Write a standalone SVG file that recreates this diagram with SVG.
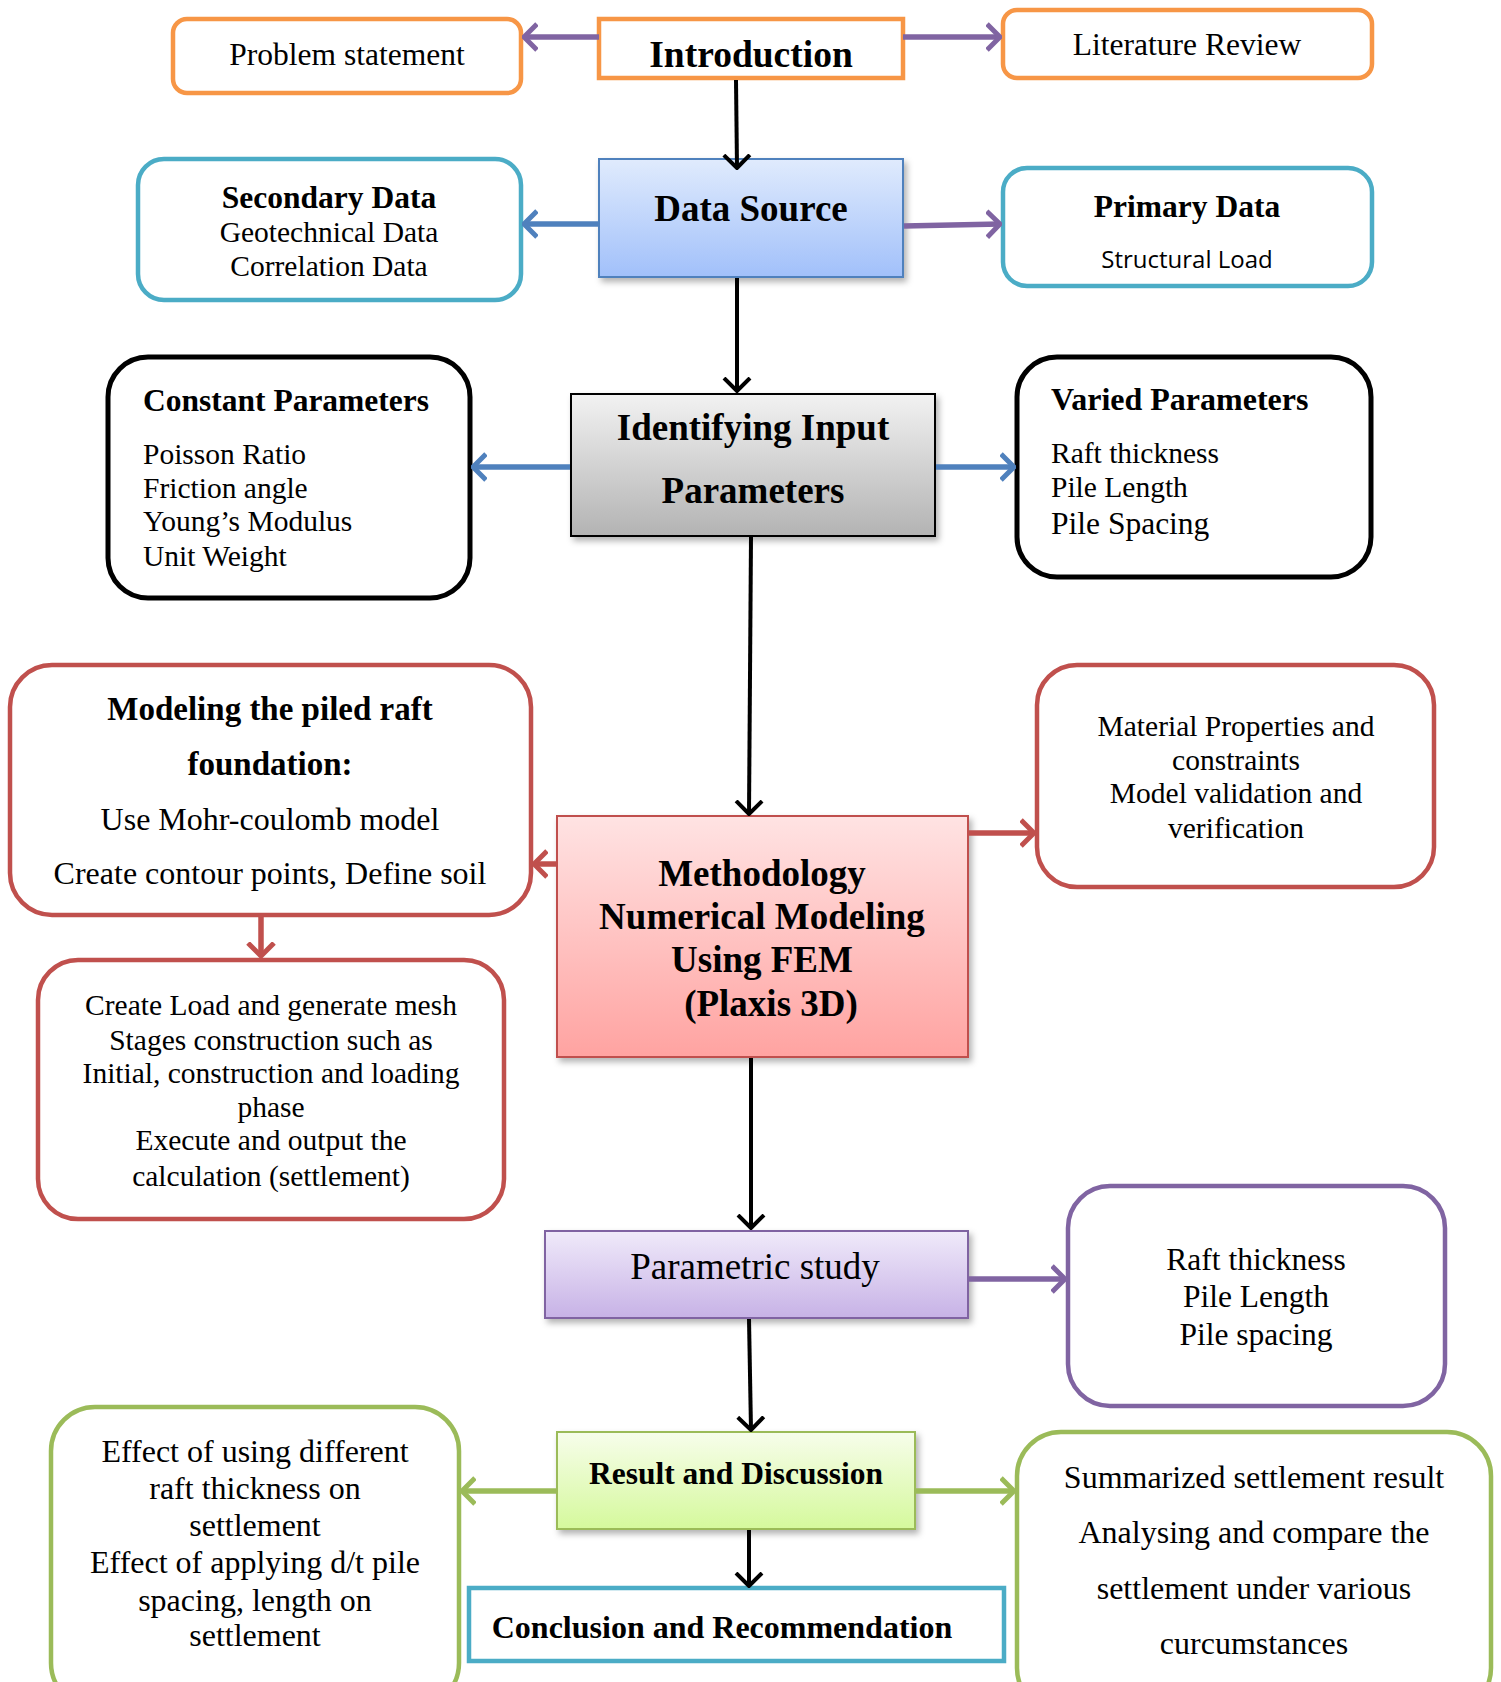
<svg xmlns="http://www.w3.org/2000/svg" width="1501" height="1682" viewBox="0 0 1501 1682">
<defs>
<style>
.t{font-family:"Liberation Serif","Times New Roman",serif;fill:#000;text-anchor:middle}
.l{text-anchor:start}
.b{font-weight:bold}
.s{font-family:"Open Sans","Noto Sans",sans-serif}
.box{fill:#fff}
.or{stroke:#F79646;stroke-width:4.5}
.bl{stroke:#4BACC6;stroke-width:4.5}
.bk{stroke:#000;stroke-width:5}
.rd{stroke:#C0504D;stroke-width:4.5}
.pu{stroke:#8064A2;stroke-width:4.5}
.gr{stroke:#9BBB59;stroke-width:4.5}
.c{fill:none}
.ck{stroke:#000;stroke-width:4}
.cpu{stroke:#8064A2;stroke-width:5.5}
.cbl{stroke:#4F81BD;stroke-width:5.5}
.crd{stroke:#C0504D;stroke-width:5.5}
.cgr{stroke:#9BBB59;stroke-width:5.5}
</style>
<linearGradient id="gBlue" x1="0" y1="0" x2="0" y2="1"><stop offset="0" stop-color="#e0ebfd"/><stop offset="1" stop-color="#a1c0fa"/></linearGradient>
<linearGradient id="gGray" x1="0" y1="0" x2="0" y2="1"><stop offset="0" stop-color="#f2f2f2"/><stop offset="1" stop-color="#b3b3b3"/></linearGradient>
<linearGradient id="gRed" x1="0" y1="0" x2="0" y2="1"><stop offset="0" stop-color="#ffe3e3"/><stop offset="1" stop-color="#ffa3a1"/></linearGradient>
<linearGradient id="gPur" x1="0" y1="0" x2="0" y2="1"><stop offset="0" stop-color="#f0eafa"/><stop offset="1" stop-color="#c7b2e6"/></linearGradient>
<linearGradient id="gGrn" x1="0" y1="0" x2="0" y2="1"><stop offset="0" stop-color="#f7fdeb"/><stop offset="1" stop-color="#d5f99c"/></linearGradient>
<filter id="sh" x="-10%" y="-10%" width="125%" height="130%"><feDropShadow dx="3" dy="4" stdDeviation="3" flood-color="#000" flood-opacity="0.3"/></filter>
<marker id="mk" viewBox="0 0 16 30" refX="14" refY="15" markerWidth="16" markerHeight="30" markerUnits="userSpaceOnUse" orient="auto"><path d="M1,2 L14,15 L1,28" fill="none" stroke="#000" stroke-width="4"/></marker>
<marker id="mpu" viewBox="0 0 16 30" refX="14" refY="15" markerWidth="16" markerHeight="30" markerUnits="userSpaceOnUse" orient="auto"><path d="M1,2 L14,15 L1,28" fill="none" stroke="#8064A2" stroke-width="5"/></marker>
<marker id="mbl" viewBox="0 0 16 30" refX="14" refY="15" markerWidth="16" markerHeight="30" markerUnits="userSpaceOnUse" orient="auto"><path d="M1,2 L14,15 L1,28" fill="none" stroke="#4F81BD" stroke-width="5"/></marker>
<marker id="mrd" viewBox="0 0 16 30" refX="14" refY="15" markerWidth="16" markerHeight="30" markerUnits="userSpaceOnUse" orient="auto"><path d="M1,2 L14,15 L1,28" fill="none" stroke="#C0504D" stroke-width="5"/></marker>
<marker id="mgr" viewBox="0 0 16 30" refX="14" refY="15" markerWidth="16" markerHeight="30" markerUnits="userSpaceOnUse" orient="auto"><path d="M1,2 L14,15 L1,28" fill="none" stroke="#9BBB59" stroke-width="5"/></marker>
</defs>
<rect width="1501" height="1682" fill="#fff"/>

<g id="problem">
<rect class="box or" x="173" y="19" width="348" height="74" rx="14"/>
<text class="t" x="347" y="65" font-size="31.5">Problem statement</text>
</g>
<g id="introduction">
<rect class="box or" x="599" y="19" width="304" height="59"/>
<text class="t b" x="751" y="67" font-size="37.5">Introduction</text>
</g>
<g id="literature">
<rect class="box or" x="1003" y="10" width="369" height="68" rx="14"/>
<text class="t" x="1187" y="55" font-size="31.5">Literature Review</text>
</g>

<g id="secondary">
<rect class="box bl" x="138" y="159" width="383" height="141" rx="26"/>
<text class="t b" x="329" y="208" font-size="31.5">Secondary Data</text>
<text class="t" x="329" y="242" font-size="29.5">Geotechnical Data</text>
<text class="t" x="329" y="276" font-size="29.5">Correlation Data</text>
</g>
<g id="datasource">
<rect x="599" y="159" width="304" height="118" fill="url(#gBlue)" stroke="#4F81BD" stroke-width="2" filter="url(#sh)"/>
<text class="t b" x="751" y="221" font-size="37">Data Source</text>
</g>
<g id="primary">
<rect class="box bl" x="1003" y="168" width="369" height="118" rx="24"/>
<text class="t b" x="1187" y="217" font-size="31.5">Primary Data</text>
<text class="t s" x="1187" y="268" font-size="24">Structural Load</text>
</g>

<g id="constant">
<rect class="box bk" x="108" y="357" width="362" height="241" rx="40"/>
<text class="t b l" x="143" y="411" font-size="31.5">Constant Parameters</text>
<text class="t l" x="143" y="464" font-size="29.5">Poisson Ratio</text>
<text class="t l" x="143" y="498" font-size="29.5">Friction angle</text>
<text class="t l" x="143" y="531" font-size="29.5">Young’s Modulus</text>
<text class="t l" x="143" y="566" font-size="29.5">Unit Weight</text>
</g>
<g id="identifying">
<rect x="571" y="394" width="364" height="142" fill="url(#gGray)" stroke="#000" stroke-width="2" filter="url(#sh)"/>
<text class="t b" x="753" y="440" font-size="37">Identifying Input</text>
<text class="t b" x="753" y="503" font-size="37">Parameters</text>
</g>
<g id="varied">
<rect class="box bk" x="1017" y="357" width="354" height="220" rx="40"/>
<text class="t b l" x="1051" y="410" font-size="32">Varied Parameters</text>
<text class="t l" x="1051" y="463" font-size="29.5">Raft thickness</text>
<text class="t l" x="1051" y="497" font-size="29.5">Pile Length</text>
<text class="t l" x="1051" y="534" font-size="31.5">Pile Spacing</text>
</g>

<g id="modeling">
<rect class="box rd" x="10" y="665" width="521" height="250" rx="42"/>
<text class="t b" x="270" y="720" font-size="33">Modeling the piled raft</text>
<text class="t b" x="270" y="775" font-size="33">foundation:</text>
<text class="t" x="270" y="830" font-size="32">Use Mohr-coulomb model</text>
<text class="t" x="270" y="884" font-size="32">Create contour points, Define soil</text>
</g>
<g id="material">
<rect class="box rd" x="1037" y="665" width="397" height="222" rx="40"/>
<text class="t" x="1236" y="736" font-size="29.5">Material Properties and</text>
<text class="t" x="1236" y="770" font-size="29.5">constraints</text>
<text class="t" x="1236" y="803" font-size="29.5">Model validation and</text>
<text class="t" x="1236" y="838" font-size="29.5">verification</text>
</g>
<g id="methodology">
<rect x="557" y="816" width="411" height="241" fill="url(#gRed)" stroke="#C0504D" stroke-width="2" filter="url(#sh)"/>
<text class="t b" x="762" y="886" font-size="37">Methodology</text>
<text class="t b" x="762" y="929" font-size="37">Numerical Modeling</text>
<text class="t b" x="762" y="972" font-size="37">Using FEM</text>
<text class="t b" x="771" y="1016" font-size="37">(Plaxis 3D)</text>
</g>
<g id="createload">
<rect class="box rd" x="38" y="960" width="466" height="259" rx="40"/>
<text class="t" x="271" y="1015" font-size="29.5">Create Load and generate mesh</text>
<text class="t" x="271" y="1050" font-size="29.5">Stages construction such as</text>
<text class="t" x="271" y="1083" font-size="29.5">Initial, construction and loading</text>
<text class="t" x="271" y="1117" font-size="29.5">phase</text>
<text class="t" x="271" y="1150" font-size="29.5">Execute and output the</text>
<text class="t" x="271" y="1186" font-size="29.5">calculation (settlement)</text>
</g>

<g id="parametric">
<rect x="545" y="1231" width="423" height="87" fill="url(#gPur)" stroke="#8064A2" stroke-width="2" filter="url(#sh)"/>
<text class="t" x="755" y="1279" font-size="37">Parametric study</text>
</g>
<g id="studyparams">
<rect class="box pu" x="1068" y="1186" width="377" height="220" rx="42"/>
<text class="t" x="1256" y="1270" font-size="31.5">Raft thickness</text>
<text class="t" x="1256" y="1307" font-size="31.5">Pile Length</text>
<text class="t" x="1256" y="1345" font-size="31.5">Pile spacing</text>
</g>

<g id="result">
<rect x="557" y="1432" width="358" height="97" fill="url(#gGrn)" stroke="#9BBB59" stroke-width="2" filter="url(#sh)"/>
<text class="t b" x="736" y="1484" font-size="31.5">Result and Discussion</text>
</g>
<g id="effect">
<rect class="box gr" x="51" y="1407" width="408" height="300" rx="44"/>
<text class="t" x="255" y="1462" font-size="32">Effect of using different</text>
<text class="t" x="255" y="1499" font-size="32">raft thickness on</text>
<text class="t" x="255" y="1536" font-size="32">settlement</text>
<text class="t" x="255" y="1573" font-size="32">Effect of applying d/t pile</text>
<text class="t" x="255" y="1611" font-size="32">spacing, length on</text>
<text class="t" x="255" y="1646" font-size="32">settlement</text>
</g>
<g id="summarized">
<rect class="box gr" x="1017" y="1432" width="474" height="280" rx="44"/>
<text class="t" x="1254" y="1488" font-size="32">Summarized settlement result</text>
<text class="t" x="1254" y="1543" font-size="32">Analysing and compare the</text>
<text class="t" x="1254" y="1599" font-size="32">settlement under various</text>
<text class="t" x="1254" y="1654" font-size="32">curcumstances</text>
</g>
<g id="conclusion">
<rect class="box bl" x="469" y="1588" width="535" height="73" stroke-width="5"/>
<text class="t b" x="722" y="1638" font-size="32">Conclusion and Recommendation</text>
</g>

<g id="connectors">
<line class="c cpu" x1="599" y1="37" x2="524" y2="37" marker-end="url(#mpu)"/>
<line class="c cpu" x1="903" y1="37" x2="1000" y2="37" marker-end="url(#mpu)"/>
<line class="c ck" x1="736" y1="80" x2="737" y2="168" marker-end="url(#mk)"/>
<line class="c cbl" x1="598" y1="224" x2="524" y2="224" marker-end="url(#mbl)"/>
<line class="c cpu" x1="904" y1="226" x2="1000" y2="224" marker-end="url(#mpu)"/>
<line class="c ck" x1="737" y1="278" x2="737" y2="391" marker-end="url(#mk)"/>
<line class="c cbl" x1="570" y1="467" x2="473" y2="467" marker-end="url(#mbl)"/>
<line class="c cbl" x1="936" y1="467" x2="1014" y2="467" marker-end="url(#mbl)"/>
<line class="c ck" x1="751" y1="537" x2="749" y2="814" marker-end="url(#mk)"/>
<line class="c crd" x1="556" y1="864" x2="534" y2="864" marker-end="url(#mrd)"/>
<line class="c crd" x1="969" y1="833" x2="1034" y2="833" marker-end="url(#mrd)"/>
<line class="c crd" x1="261" y1="917" x2="261" y2="956" marker-end="url(#mrd)"/>
<line class="c ck" x1="751" y1="1058" x2="751" y2="1228" marker-end="url(#mk)"/>
<line class="c cpu" x1="969" y1="1279" x2="1065" y2="1279" marker-end="url(#mpu)"/>
<line class="c ck" x1="749" y1="1319" x2="751" y2="1430" marker-end="url(#mk)"/>
<line class="c cgr" x1="556" y1="1491" x2="462" y2="1491" marker-end="url(#mgr)"/>
<line class="c cgr" x1="916" y1="1491" x2="1014" y2="1491" marker-end="url(#mgr)"/>
<line class="c ck" x1="749" y1="1530" x2="749" y2="1586" marker-end="url(#mk)"/>
</g>
</svg>
